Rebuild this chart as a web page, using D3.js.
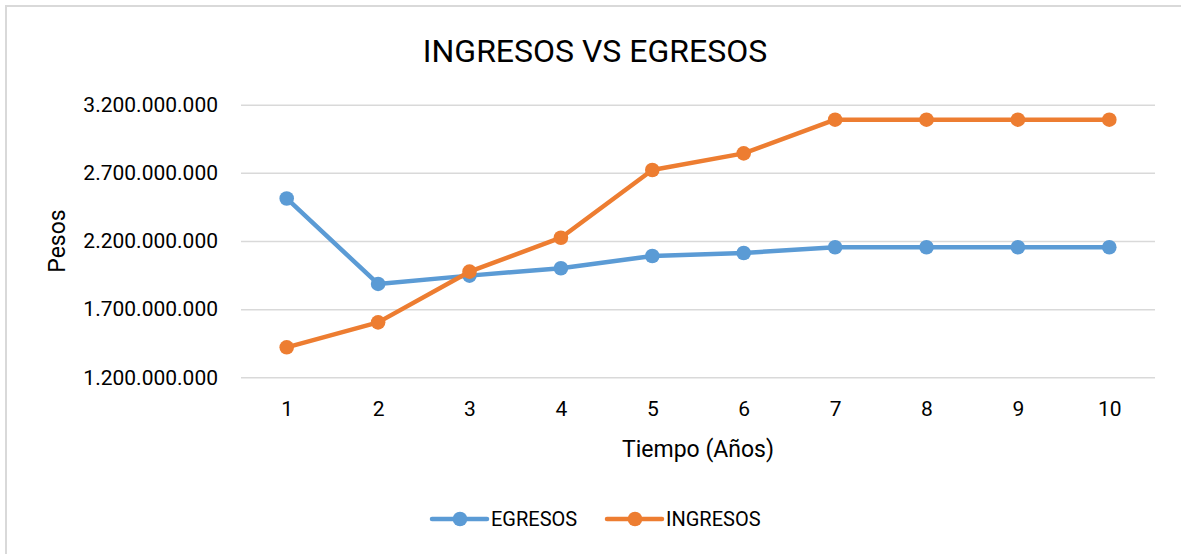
<!DOCTYPE html>
<html>
<head>
<meta charset="utf-8">
<script src="https://cdn.jsdelivr.net/npm/d3@7"></script>
<style>
  body { margin: 0; background: #fff; }
  svg { display: block; font-family: Roboto, "Liberation Sans", sans-serif; }
</style>
</head>
<body>
<div id="chart"></div>
<script>
// data
const years = [1, 2, 3, 4, 5, 6, 7, 8, 9, 10];
const egresos = [2512e6, 1885e6, 1946e6, 2000e6, 2090e6, 2112e6, 2154e6, 2154e6, 2154e6, 2154e6];
const ingresos = [1420e6, 1603e6, 1975e6, 2224e6, 2721e6, 2843e6, 3090e6, 3090e6, 3090e6, 3090e6];
const yTicks = [1200e6, 1700e6, 2200e6, 2700e6, 3200e6];

const series = [
    { name: 'EGRESOS', values: egresos, color: '#5B9BD5' },
    { name: 'INGRESOS', values: ingresos, color: '#ED7D31' }
];

const width = 1181;
const height = 554;
const plot = { left: 241, right: 1155, top: 104.7, bottom: 377.3 };

const svg = d3.select('#chart')
    .append('svg')
    .attr('width', width)
    .attr('height', height);

svg.append('rect')
    .attr('width', width)
    .attr('height', height)
    .attr('fill', '#fff');

// chart border (only top and left visible)
svg.append('path')
    .attr('d', `M6,${height + 5}V6H${width + 5}`)
    .attr('fill', 'none')
    .attr('stroke', '#d9d9d9')
    .attr('stroke-width', 2);

const x = d3.scalePoint()
    .domain(years)
    .range([plot.left, plot.right])
    .padding(0.5);

const y = d3.scaleLinear()
    .domain([1200e6, 3200e6])
    .range([plot.bottom, plot.top]);

const fmt = d3.formatLocale({ decimal: ',', thousands: '.', grouping: [3], currency: ['$', ''] }).format(',d');

// y axis + gridlines
const yAxis = svg.append('g')
    .attr('transform', `translate(${plot.left},0)`)
    .call(d3.axisLeft(y)
        .tickValues(yTicks)
        .tickFormat(fmt)
        .tickSize(-(plot.right - plot.left))
        .tickPadding(23));
yAxis.select('.domain').remove();
yAxis.selectAll('line')
    .attr('stroke', '#d9d9d9')
    .attr('stroke-width', 1.5);
yAxis.selectAll('text')
    .attr('fill', '#000')
    .style('font-size', '21px')
    .style('font-family', 'Roboto, sans-serif');

// x axis labels
const xAxis = svg.append('g')
    .attr('transform', `translate(0,${plot.bottom})`)
    .call(d3.axisBottom(x).tickSize(0).tickPadding(24));
xAxis.select('.domain').remove();
xAxis.selectAll('text')
    .attr('fill', '#000')
    .style('font-size', '21px')
    .style('font-family', 'Roboto, sans-serif');

// lines and markers
const line = d3.line()
    .x((d, i) => x(years[i]))
    .y(d => y(d));

series.forEach(s => {
    svg.append('path')
        .datum(s.values)
        .attr('d', line)
        .attr('fill', 'none')
        .attr('stroke', s.color)
        .attr('stroke-width', 4.5)
        .attr('stroke-linejoin', 'round');

    svg.append('g')
        .selectAll('circle')
        .data(s.values)
        .join('circle')
        .attr('cx', (d, i) => x(years[i]))
        .attr('cy', d => y(d))
        .attr('r', 7.3)
        .attr('fill', s.color);
});

// title
svg.append('text')
    .attr('x', 595)
    .attr('y', 62)
    .attr('text-anchor', 'middle')
    .style('font-size', '32px')
    .text('INGRESOS VS EGRESOS');

// axis titles
svg.append('text')
    .attr('x', (plot.left + plot.right) / 2)
    .attr('y', 457)
    .attr('text-anchor', 'middle')
    .style('font-size', '23px')
    .text('Tiempo (Años)');

svg.append('text')
    .attr('transform', 'translate(65,241) rotate(-90)')
    .attr('text-anchor', 'middle')
    .style('font-size', '23px')
    .text('Pesos');

// legend
const legendX = [432, 607];
const legend = svg.selectAll('.legend')
    .data(series)
    .join('g')
    .attr('class', 'legend')
    .attr('transform', (d, i) => `translate(${legendX[i]},519)`);

legend.append('line')
    .attr('x1', 0)
    .attr('x2', 55)
    .attr('stroke', d => d.color)
    .attr('stroke-width', 4.5)
    .attr('stroke-linecap', 'round');

legend.append('circle')
    .attr('cx', 28)
    .attr('r', 7.3)
    .attr('fill', d => d.color);

legend.append('text')
    .attr('x', 59)
    .attr('y', 7)
    .style('font-size', '20px')
    .text(d => d.name);
</script>
</body>
</html>
